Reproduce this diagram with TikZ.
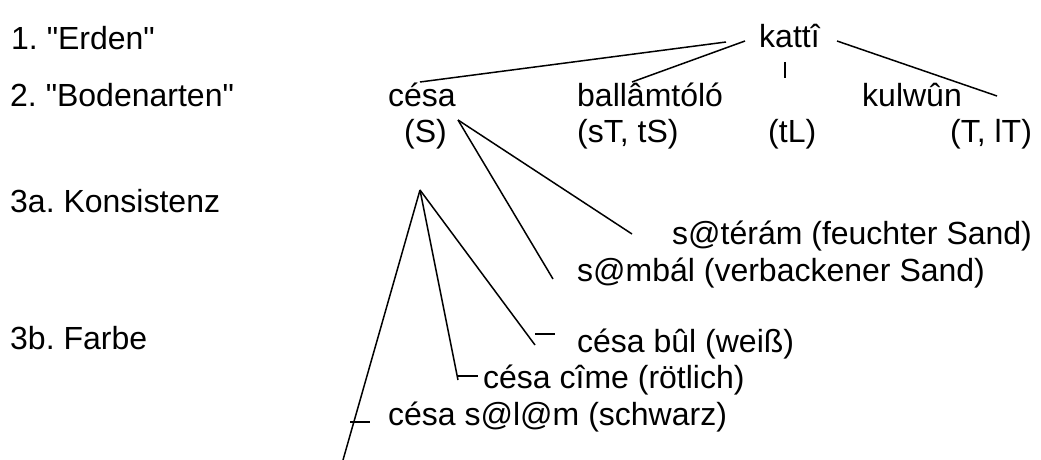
\documentclass[tikz,border=0pt]{standalone}
\usepackage{fontspec}
\setmainfont{Liberation Sans}[Ligatures=TeXOff]
\begin{document}
\frenchspacing
\begin{tikzpicture}[x=1pt,y=-1pt,
  lbl/.style={anchor=base west,inner sep=0pt,font=\fontsize{32}{38}\selectfont},
  branch/.style={line width=1.5pt,line cap=butt}]
\useasboundingbox (0,0) rectangle (1041,460);

% level labels
\node[lbl] (erden)   at (11,50)  {1. "Erden"};
\node[lbl] (boden)   at (10,106) {2. "Bodenarten"};
\node[lbl] (konsist) at (10,212) {3a. Konsistenz};
\node[lbl] (farbe)   at (10,349) {3b. Farbe};

% tree words
\node[lbl] (katti)  at (759,48)  {kattî};
\node[lbl] (cesa)   at (388,106) {césa};
\node[lbl] (ball)   at (577,106) {ballâmtóló};
\node[lbl] (kulwun) at (862,106) {kulwûn};
\node[lbl] (S)      at (404,142) {(S)};
\node[lbl] (sT)     at (577,142) {(sT, tS)};
\node[lbl] (tL)     at (768,142) {(tL)};
\node[lbl] (lT)     at (950,142) {(T, lT)};
\node[lbl] (steram) at (672,244) {s@térám (feuchter Sand)};
\node[lbl] (smbal)  at (577,281) {s@mbál (verbackener Sand)};
\node[lbl] (bul)    at (577,352) {césa bûl (weiß)};
\node[lbl] (cime)   at (483,388) {césa cîme (rötlich)};
\node[lbl] (slam)   at (388,425) {césa s@l@m (schwarz)};

% line ends
\coordinate (k1) at (726,42);
\coordinate (k2) at (745,41);
\coordinate (k3) at (837,41);
\coordinate (kt1) at (785,62);
\coordinate (kt2) at (785,78);
\coordinate (cesaTop) at (420,82);
\coordinate (ballTop) at (632,82);
\coordinate (kulTop) at (997,96);
\coordinate (sK) at (458,120);
\coordinate (teramEnd) at (632,234);
\coordinate (mbalEnd) at (553,279);
\coordinate (apex) at (420,190);
\coordinate (bulEnd) at (535,345);
\coordinate (bulT1) at (535,334);
\coordinate (bulT2) at (555,334);
\coordinate (cimeEnd) at (458,380);
\coordinate (cimeT) at (478,376);
\coordinate (cimeC) at (458,376);
\coordinate (slamEnd) at (343,460);
\coordinate (slamT1) at (350,422);
\coordinate (slamT2) at (370,422);

% level 1 -> level 2
\draw[branch] (k1) -- (cesaTop);
\draw[branch] (k2) -- (ballTop);
\draw[branch] (kt1) -- (kt2);
\draw[branch] (k3) -- (kulTop);

% consistency branches
\draw[branch] (sK) -- (teramEnd);
\draw[branch] (sK) -- (mbalEnd);

% colour branches
\draw[branch] (apex) -- (bulEnd);
\draw[branch] (bulT1) -- (bulT2);
\draw[branch] (apex) -- (cimeEnd);
\draw[branch] (cimeC) -- (cimeT);
\draw[branch] (apex) -- (slamEnd);
\draw[branch] (slamT1) -- (slamT2);
\end{tikzpicture}
\end{document}
